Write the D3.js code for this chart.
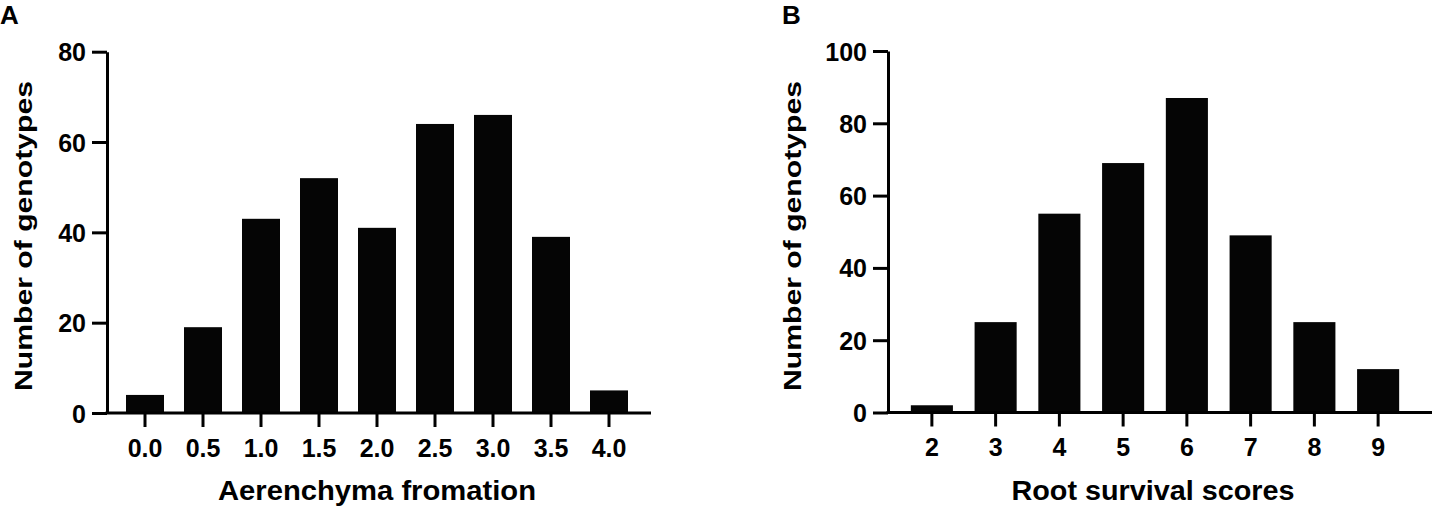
<!DOCTYPE html>
<html>
<head>
<meta charset="utf-8">
<script src="https://cdn.jsdelivr.net/npm/d3@7"></script>
<style>
  body { margin: 0; background: #fff; }
  text { font-family: "Liberation Sans", Arial, sans-serif; font-weight: bold; fill: #000; }
</style>
</head>
<body>
<div id="chart"></div>
<script>
var width = 1432;
var height = 508;

// panel A data
var aerenchymaCats = ['0.0', '0.5', '1.0', '1.5', '2.0', '2.5', '3.0', '3.5', '4.0'];
var aerenchymaCounts = [4, 19, 43, 52, 41, 64, 66, 39, 5];
var aerenchymaTicks = [0, 20, 40, 60, 80];

// panel B data
var survivalCats = ['2', '3', '4', '5', '6', '7', '8', '9'];
var survivalCounts = [2, 25, 55, 69, 87, 49, 25, 12];
var survivalTicks = [0, 20, 40, 60, 80, 100];

var svg = d3.select('#chart').append('svg')
    .attr('width', width)
    .attr('height', height);

function drawPanel(opts) {
    var g = svg.append('g');

    var yScale = d3.scaleLinear()
        .domain([0, opts.yMax])
        .range([opts.yBottom, opts.yTop]);

    var xScale = d3.scaleBand()
        .domain(opts.cats)
        .range(opts.bandRange)
        .paddingInner(opts.pad)
        .paddingOuter(opts.pad / 2);

    // bars
    g.selectAll('rect.bar')
        .data(opts.cats)
        .enter()
        .append('rect')
        .attr('class', 'bar')
        .attr('x', d => xScale(d))
        .attr('width', xScale.bandwidth())
        .attr('y', (d, i) => yScale(opts.values[i]))
        .attr('height', (d, i) => yScale(0) - yScale(opts.values[i]))
        .attr('fill', '#050505');

    // y axis
    var yAxis = d3.axisLeft(yScale)
        .tickValues(opts.yTicks)
        .tickSize(15)
        .tickSizeOuter(0)
        .tickPadding(6);

    var yAxis_g = g.append('g')
        .attr('transform', `translate(${opts.axisX}, 0)`)
        .call(yAxis);
    yAxis_g.select('.domain').attr('stroke-width', 3).attr('stroke', '#000');
    yAxis_g.selectAll('.tick line').attr('stroke-width', 3).attr('stroke', '#000');
    yAxis_g.selectAll('.tick text')
        .style('font-size', '25px')
        .attr('font-family', null)
        .attr('dy', '0.36em');

    // x axis
    var xAxis = d3.axisBottom(xScale)
        .tickSize(14)
        .tickSizeOuter(0)
        .tickPadding(12);

    var xAxis_g = g.append('g')
        .attr('transform', `translate(0, ${yScale(0)})`)
        .call(xAxis);
    xAxis_g.select('.domain').remove();
    xAxis_g.selectAll('.tick line').attr('stroke-width', 3).attr('stroke', '#000');
    xAxis_g.selectAll('.tick text')
        .style('font-size', '25px')
        .attr('font-family', null);

    g.append('line')
        .attr('x1', opts.axisX - 1.5)
        .attr('x2', opts.xEnd)
        .attr('y1', yScale(0))
        .attr('y2', yScale(0))
        .attr('stroke', '#000')
        .attr('stroke-width', 3);

    // axis titles
    g.append('text')
        .attr('x', opts.xTitleX)
        .attr('y', 500)
        .attr('text-anchor', 'middle')
        .attr('textLength', opts.xTitleLen)
        .attr('lengthAdjust', 'spacingAndGlyphs')
        .style('font-size', '28px')
        .text(opts.xTitle);

    g.append('text')
        .attr('transform', `translate(${opts.yTitleX}, 236) rotate(-90)`)
        .attr('text-anchor', 'middle')
        .attr('textLength', 310)
        .attr('lengthAdjust', 'spacingAndGlyphs')
        .style('font-size', '24px')
        .text('Number of genotypes');

    // panel letter
    g.append('text')
        .attr('x', opts.letterX)
        .attr('y', 24)
        .style('font-size', '26px')
        .text(opts.letter);
}

drawPanel({
    cats: aerenchymaCats,
    values: aerenchymaCounts,
    yTicks: aerenchymaTicks,
    yMax: 80,
    yTop: 51.7,
    yBottom: 413,
    bandRange: [116, 638],
    pad: 0.345,
    axisX: 107,
    xEnd: 651,
    xTitle: 'Aerenchyma fromation',
    xTitleX: 377,
    xTitleLen: 318,
    yTitleX: 32,
    letter: 'A',
    letterX: 0
});

drawPanel({
    cats: survivalCats,
    values: survivalCounts,
    yTicks: survivalTicks,
    yMax: 100,
    yTop: 51,
    yBottom: 412.5,
    bandRange: [900, 1410],
    pad: 0.34,
    axisX: 888,
    xEnd: 1432,
    xTitle: 'Root survival scores',
    xTitleX: 1153,
    xTitleLen: 283,
    yTitleX: 801,
    letter: 'B',
    letterX: 782
});
</script>
</body>
</html>
